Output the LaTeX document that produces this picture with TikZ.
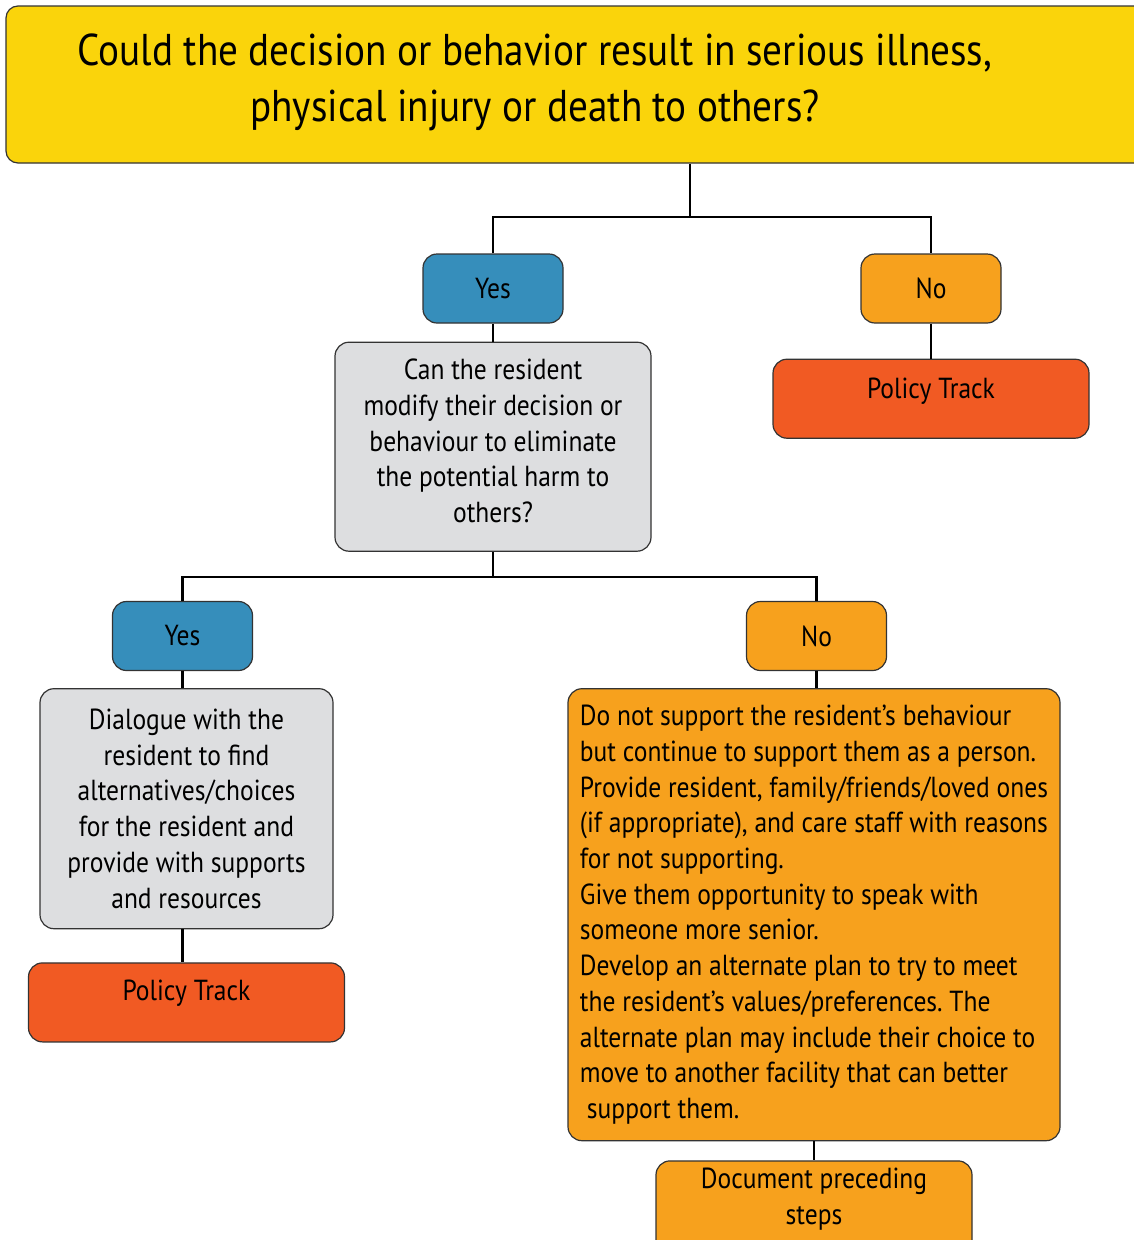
\documentclass[tikz,border=0pt]{standalone}
\usepackage{fontspec}
\setmainfont[FakeStretch=0.88]{PT Sans}
\usetikzlibrary{positioning}
\frenchspacing

\definecolor{titleyellow}{HTML}{FAD40B}
\definecolor{yesblue}{HTML}{368EBB}
\definecolor{noorange}{HTML}{F7A11D}
\definecolor{policyred}{HTML}{F15A23}
\definecolor{askgray}{HTML}{DDDEE0}

\begin{document}
\begin{tikzpicture}[
            x = 1pt, y = 1pt, % one unit per pixel of the sketch
            line width = 2.3pt % connector style
        ]

        \tikzset{
            box/.style = {
                draw = black!80,
                line width = 1.2pt,
                rounded corners = 14pt,
                align = center,
                inner sep = 0pt
            },
            txt/.style = {font = \fontsize{29}{35.7}\selectfont},
            answer/.style = {box, txt, minimum width = 140pt, minimum height = 69pt},
            policy/.style = {box, txt, fill = policyred, minimum width = 316pt, minimum height = 79pt},
            ask/.style = {box, txt, fill = askgray}
        }

        \useasboundingbox (0,0) rectangle (1134,-1240);

        % top question
        \node[box, fill = titleyellow, minimum width = 1368pt, minimum height = 157pt, rounded corners = 12pt] (title) at (690,-84.5) {};
        \node[font = \fontsize{44.5}{56}\selectfont, align = center] (titletext) at (535,-82) {Could the decision or behavior result in serious illness,\\physical injury or death to others?};

        % first answers
        \node[answer, fill = yesblue] (yes1) at (493,-288.5) {Yes};
        \node[answer, fill = noorange] (no1) at (931,-288.5) {No};
        \node[ask, minimum width = 316pt, minimum height = 209pt] (ask1) [below = 18pt of yes1] {Can the resident\\modify their decision or\\behaviour to eliminate\\the potential harm to\\others?\\[-24pt]};
        \node[policy] (policy1) [below = 35pt of no1] {\raisebox{0pt}[0pt][0pt]{Policy Track}};

        % second answers
        \node[answer, fill = yesblue] (yes2) at (182.5,-636) {Yes};
        \node[answer, fill = noorange] (no2) at (816.5,-636) {No};
        \node[ask, minimum width = 293pt, minimum height = 240pt] (ask2) [below = 17pt of yes2, xshift = 4pt] {Dialogue with the\\resident to find\\alternatives/choices\\for the resident and\\provide with supports\\and resources};
        \node[policy] (policy2) [below = 33pt of ask2] {\raisebox{2pt}[0pt][0pt]{Policy Track}};
        \node[box, txt, fill = noorange, minimum width = 492pt, minimum height = 452pt, align = left] (act) [below = 17pt of no2, xshift = -2.5pt] {Do not support the resident’s behaviour\\but continue to support them as a person.\\Provide resident, family/friends/loved ones\\(if appropriate), and care staff with reasons\\for not supporting.\\Give them opportunity to speak with\\someone more senior.\\Develop an alternate plan to try to meet\\the resident’s values/preferences. The\\alternate plan may include their choice to\\move to another facility that can better\\\hspace*{7pt}support them.};
        \node[box, txt, fill = noorange, minimum width = 316pt, minimum height = 100pt] (doc) [below = 19pt of act] {\raisebox{5pt}[0pt][0pt]{\begin{tabular}{@{}c@{}}Document preceding\\steps\end{tabular}}};

        \coordinate (split1) at (690,-217);
        \coordinate (split2) at (493,-577);

        \draw (title.south) -- (split1);
        \draw (yes1.north) |- (split1) -| (no1.north);
        \draw (yes1) -- (ask1);
        \draw (no1) -- (policy1);
        \draw (ask1.south) -- (split2);
        \draw (yes2.north) |- (split2) -| (no2.north);
        \draw (yes2.south) -- (yes2.south |- ask2.north);
        \draw (ask2.south -| yes2.south) -- (policy2.north -| yes2.south);
        \draw (no2.south) -- (no2.south |- act.north);
        \draw (act) -- (doc);

  \end{tikzpicture}
\end{document}
